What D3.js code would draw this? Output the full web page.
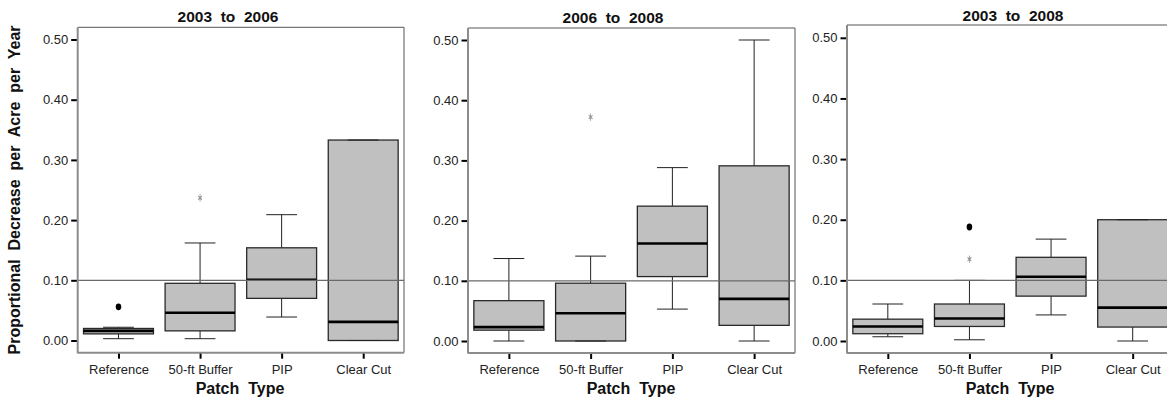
<!DOCTYPE html>
<html>
<head>
<meta charset="utf-8">
<script src="https://cdn.jsdelivr.net/npm/d3@7"></script>
<style>
  html, body { margin: 0; padding: 0; background: #fff; }
  svg { display: block; font-family: "Liberation Sans", Arial, sans-serif; }
</style>
</head>
<body>
<svg id="chart" width="1167" height="398"></svg>
<script>
// Patch types and time periods
const categories = ["Reference", "50-ft Buffer", "PIP", "Clear Cut"];
const periods = ["2003  to  2006", "2006  to  2008", "2003  to  2008"];
const yTicks = [0.0, 0.1, 0.2, 0.3, 0.4, 0.5];
const thresholdValue = 0.10;

// Box-plot statistics, one row per period, one entry per patch type
const lowerWhisker = [
  [0.003, 0.003, 0.039, 0.000],
  [0.000, 0.000, 0.053, 0.000],
  [0.007, 0.002, 0.043, 0.000]
];
const quartile1 = [
  [0.011, 0.016, 0.070, 0.000],
  [0.018, 0.000, 0.107, 0.026],
  [0.012, 0.024, 0.074, 0.023]
];
const medians = [
  [0.016, 0.046, 0.101, 0.031],
  [0.023, 0.046, 0.162, 0.070],
  [0.024, 0.037, 0.106, 0.055]
];
const quartile3 = [
  [0.020, 0.095, 0.154, 0.333],
  [0.067, 0.096, 0.224, 0.291],
  [0.036, 0.061, 0.138, 0.200]
];
const upperWhisker = [
  [0.022, 0.162, 0.209, 0.333],
  [0.137, 0.141, 0.288, 0.500],
  [0.061, 0.100, 0.168, 0.200]
];
// Outliers (circles) and extreme values (stars): [period, category, value]
const outliers = [
  [0, "Reference", 0.056],
  [2, "50-ft Buffer", 0.188]
];
const extremes = [
  [0, "50-ft Buffer", 0.237],
  [1, "50-ft Buffer", 0.372],
  [2, "50-ft Buffer", 0.135]
];

// Panel frames in pixels
const panels = [
  { left: 77.7, right: 404, top: 27.3, bottom: 352.7, y0: 340.5, y5: 39.5, titleX: 228, titleY: 21.7, xTitleX: 240 },
  { left: 468, right: 795, top: 28, bottom: 353, y0: 341, y5: 40, titleX: 613, titleY: 22.7, xTitleX: 631 },
  { left: 847, right: 1173.5, top: 25, bottom: 353, y0: 341, y5: 37.8, titleX: 1013, titleY: 20.7, xTitleX: 1010 }
];

const svg = d3.select("#chart");

panels.forEach((p, pi) => {
  const g = svg.append("g");
  const x = d3.scalePoint().domain(categories).range([p.left, p.right]).padding(0.5);
  const y = d3.scaleLinear().domain([0, 0.5]).range([p.y0, p.y5]);
  const band = x.step();
  const boxW = band * 0.857;
  const capW = boxW * 0.44;

  // frame: thin dark top/right, heavier gray left/bottom
  g.append("line").attr("x1", p.left).attr("x2", p.right).attr("y1", p.top).attr("y2", p.top)
    .attr("stroke", "#555").attr("stroke-width", 1);
  g.append("line").attr("x1", p.right).attr("x2", p.right).attr("y1", p.top).attr("y2", p.bottom)
    .attr("stroke", "#555").attr("stroke-width", 1);

  // boxes
  const rows = categories.map((c, i) => ({
    c, lo: lowerWhisker[pi][i], q1: quartile1[pi][i], med: medians[pi][i],
    q3: quartile3[pi][i], hi: upperWhisker[pi][i]
  }));
  const bx = g.selectAll("g.box").data(rows).join("g").attr("class", "box");
  bx.append("line").attr("x1", d => x(d.c)).attr("x2", d => x(d.c))
    .attr("y1", d => y(d.hi)).attr("y2", d => y(d.q3)).attr("stroke", "#222").attr("stroke-width", 1);
  bx.append("line").attr("x1", d => x(d.c)).attr("x2", d => x(d.c))
    .attr("y1", d => y(d.q1)).attr("y2", d => y(d.lo)).attr("stroke", "#222").attr("stroke-width", 1);
  bx.append("rect").attr("x", d => x(d.c) - boxW / 2).attr("width", boxW)
    .attr("y", d => y(d.q3)).attr("height", d => y(d.q1) - y(d.q3))
    .attr("fill", "#c0c0c0").attr("stroke", "#2a2a2a").attr("stroke-width", 1.3);
  bx.append("line").attr("x1", d => x(d.c) - boxW / 2).attr("x2", d => x(d.c) + boxW / 2)
    .attr("y1", d => y(d.med)).attr("y2", d => y(d.med)).attr("stroke", "#000").attr("stroke-width", 2.6);

  // outliers and extremes
  g.selectAll("path.out").data(outliers.filter(o => o[0] === pi)).join("path").attr("class", "out")
    .attr("d", d3.symbol(d3.symbolCircle, 30)())
    .attr("transform", d => `translate(${x(d[1])},${y(d[2])}) scale(0.9,1.1)`).attr("fill", "#000");
  g.selectAll("path.ext").data(extremes.filter(o => o[0] === pi)).join("path").attr("class", "ext")
    .attr("d", d3.symbol(d3.symbolAsterisk, 36)())
    .attr("transform", d => `translate(${x(d[1])},${y(d[2])}) scale(0.6,1)`)
    .attr("fill", "none").attr("stroke", "#939393").attr("stroke-width", 1.3);

  // threshold line at 0.10
  g.append("line").attr("x1", p.left).attr("x2", p.right)
    .attr("y1", y(thresholdValue)).attr("y2", y(thresholdValue))
    .attr("stroke", "#6a6a6a").attr("stroke-width", 1.3);

  // whisker caps
  bx.append("line").attr("x1", d => x(d.c) - capW / 2).attr("x2", d => x(d.c) + capW / 2)
    .attr("y1", d => y(d.hi)).attr("y2", d => y(d.hi)).attr("stroke", "#222").attr("stroke-width", 1);
  bx.append("line").attr("x1", d => x(d.c) - capW / 2).attr("x2", d => x(d.c) + capW / 2)
    .attr("y1", d => y(d.lo)).attr("y2", d => y(d.lo)).attr("stroke", "#222").attr("stroke-width", 1);

  // axes
  const ya = g.append("g").attr("transform", `translate(${p.left},0)`)
    .call(d3.axisLeft(y).tickValues(yTicks).tickFormat(d3.format(".2f")).tickSize(6.5).tickPadding(3));
  ya.select(".domain").remove();
  ya.selectAll(".tick line").attr("stroke", "#000").attr("stroke-width", 2);
  ya.selectAll(".tick text").attr("font-size", 13).attr("fill", "#222")
    .attr("font-family", "'Liberation Sans', Arial, sans-serif");

  const xa = g.append("g").attr("transform", `translate(0,${p.bottom})`)
    .call(d3.axisBottom(x).tickSize(6).tickPadding(6));
  xa.select(".domain").remove();
  xa.selectAll(".tick line").attr("stroke", "#000").attr("stroke-width", 2);
  xa.selectAll(".tick text").attr("font-size", 13).attr("fill", "#222")
    .attr("font-family", "'Liberation Sans', Arial, sans-serif");

  // left and bottom axis lines
  g.append("line").attr("x1", p.left).attr("x2", p.left).attr("y1", p.top).attr("y2", p.bottom + 0.5)
    .attr("stroke", "#8c8c8c").attr("stroke-width", 2);
  g.append("line").attr("x1", p.left).attr("x2", p.right).attr("y1", p.bottom).attr("y2", p.bottom)
    .attr("stroke", "#8c8c8c").attr("stroke-width", 2);

  // titles
  g.append("text").attr("x", p.titleX).attr("y", p.titleY).attr("text-anchor", "middle")
    .attr("font-size", 15.5).attr("font-weight", "bold").attr("fill", "#111")
    .style("white-space", "pre").text(periods[pi]);
  g.append("text").attr("x", p.xTitleX).attr("y", 394).attr("text-anchor", "middle")
    .attr("font-size", 16).attr("font-weight", "bold").attr("fill", "#111")
    .style("white-space", "pre").text("Patch  Type");
});

svg.append("text").attr("transform", "translate(20,190) rotate(-90)").attr("text-anchor", "middle")
  .attr("font-size", 16).attr("font-weight", "bold").attr("fill", "#111")
  .style("white-space", "pre").text("Proportional  Decrease  per  Acre  per  Year");
</script>
</body>
</html>
